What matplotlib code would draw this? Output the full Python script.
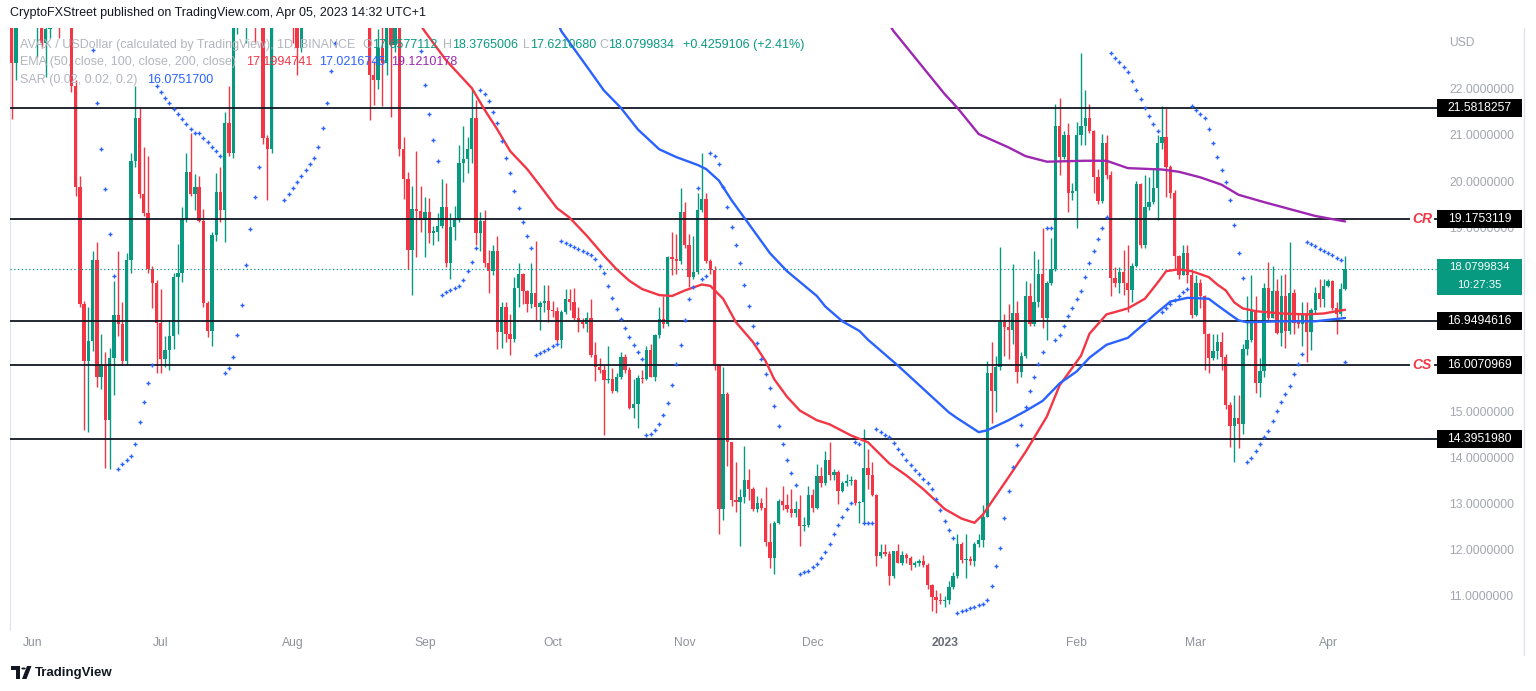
import numpy as np
import pandas as pd
import matplotlib
matplotlib.use("Agg")
import matplotlib.pyplot as plt
import matplotlib.dates as mdates
from matplotlib.patches import Rectangle, Polygon, Circle

plt.rcParams['font.family'] = ['Liberation Sans', 'DejaVu Sans']

# ---------------- data (AVAX/USD daily, 2022-05-27 .. 2023-04-05) ----------------
START = '2022-05-27'
open_ = [
    24.60, 22.57, 23.90, 24.40, 28.20,
    27.30, 24.00, 24.60, 23.00, 23.30, 23.90, 26.00, 25.90, 24.60, 24.40, 22.06, 19.88, 17.32, 16.08, 16.52,
    18.28, 15.75, 15.99, 14.80, 16.16, 17.09, 16.89, 16.08, 18.28, 20.44, 21.36, 19.71, 19.31, 18.08, 17.79,
    16.92, 16.12, 16.32, 16.63, 17.91, 18.00, 19.17, 20.20, 19.72, 19.88, 19.13, 17.34, 16.75, 18.83, 19.77,
    19.37, 21.25, 20.61, 23.70, 24.50, 24.00, 24.30, 23.80, 23.60, 24.10, 20.93, 20.70, 24.40, 24.70, 24.80, 25.60,
    24.40, 23.60, 22.90, 24.00, 24.30, 25.80, 25.30, 27.10, 27.20, 25.70, 27.40, 27.60, 28.00, 29.10, 28.40,
    27.00, 26.80, 25.80, 24.90, 22.30, 22.20, 22.90, 22.57, 23.50, 22.95, 23.60, 20.69, 20.05, 18.51, 19.40, 19.35,
    19.15, 19.32, 18.88, 18.90, 19.03, 19.43, 18.21, 19.00, 19.15, 20.39, 20.48, 20.69, 21.37, 18.86, 19.13,
    18.21, 18.04, 18.47, 16.72, 17.27, 16.68, 16.57, 17.68, 17.97, 17.60, 17.32, 17.57, 17.27, 17.35, 17.40,
    17.19, 17.17, 16.55, 17.15, 17.44, 17.36, 17.03, 16.93, 16.89, 17.02, 16.21, 15.95, 15.90, 15.67, 15.70,
    15.44, 15.74, 16.18, 15.89, 15.07, 15.15, 15.72, 15.70, 16.32, 15.75, 16.65, 16.99, 16.89, 18.34, 18.30, 18.26,
    19.32, 18.60, 17.91, 18.02, 19.37, 19.60, 18.26, 18.06, 15.99, 12.87, 15.38, 14.33, 13.07, 13.02, 13.13,
    13.51, 13.30, 12.87, 13.00, 12.90, 12.15, 11.80, 12.57, 13.04, 12.96, 12.87, 12.78, 12.87, 12.49, 12.52,
    13.17, 12.89, 13.58, 13.43, 13.94, 13.60, 13.67, 13.27, 13.43, 13.47, 13.50, 13.00, 13.02, 13.77, 13.60,
    13.17, 11.85, 11.93, 11.90, 11.42, 11.96, 11.70, 11.88, 11.80, 11.65, 11.70, 11.74, 11.65, 11.21, 10.95, 10.90,
    10.86, 10.90, 11.18, 11.42, 12.10, 11.76, 11.79, 11.74, 12.10, 12.19, 12.70, 15.82, 15.44, 15.95, 16.93,
    16.83, 16.76, 17.12, 15.84, 16.20, 17.49, 16.89, 17.36, 17.97, 17.02, 17.79, 18.08, 21.20, 20.52, 20.99, 19.73,
    19.79, 21.00, 21.20, 21.37, 21.08, 20.09, 19.56, 20.82, 20.14, 17.89, 17.79, 18.02, 17.79, 17.63,
    18.15, 19.94, 18.60, 19.43, 19.54, 19.84, 20.82, 20.96, 20.31, 19.73, 18.37, 17.96, 18.43, 17.96,
    17.09, 17.79, 17.49, 16.68, 16.15, 16.30, 16.50, 16.18, 15.14, 14.67, 14.84, 14.71, 16.35, 16.55, 17.20,
    15.61, 15.86, 17.68, 17.03, 17.60, 16.69, 17.49, 16.74, 17.57, 16.92, 16.90, 17.12, 16.72, 17.19, 17.57, 17.44,
    17.72, 17.83, 17.23, 17.10, 17.6577112,
]
high = [
    25.00, 24.00, 24.60, 28.50, 29.00,
    27.80, 24.90, 24.80, 23.90, 24.20, 26.50, 26.50, 26.00, 25.00, 24.60, 22.20, 20.10, 17.40, 17.27, 18.47,
    18.68, 16.68, 16.29, 16.38, 17.83, 18.47, 17.38, 18.43, 20.60, 22.06, 21.59, 20.73, 20.54, 18.15, 17.85,
    17.66, 16.63, 16.97, 18.00, 18.64, 19.43, 20.60, 21.05, 20.15, 20.10, 19.40, 17.40, 18.90, 20.18, 20.30,
    21.50, 22.06, 24.10, 24.80, 26.00, 24.50, 25.00, 24.20, 24.40, 24.30, 21.00, 24.60, 24.90, 25.00, 26.50, 25.90,
    24.80, 24.00, 24.30, 24.80, 26.00, 26.60, 27.50, 28.00, 28.60, 27.60, 28.60, 28.20, 30.00, 30.00, 29.20,
    27.60, 28.00, 26.30, 25.00, 22.60, 23.30, 23.60, 23.60, 23.80, 23.90, 23.80, 20.95, 20.20, 19.90, 20.65, 19.90,
    19.65, 19.62, 19.03, 19.30, 20.05, 19.95, 19.30, 19.45, 20.78, 21.20, 20.95, 21.97, 21.76, 19.32, 19.36,
    18.51, 18.60, 18.81, 17.36, 17.36, 17.10, 17.91, 18.21, 18.00, 17.62, 18.21, 18.70, 17.40, 17.74, 17.74,
    17.40, 17.27, 17.20, 17.66, 17.66, 17.68, 17.27, 17.02, 17.15, 17.44, 16.50, 16.15, 16.00, 16.42, 15.93,
    15.82, 16.29, 16.25, 15.95, 15.70, 15.78, 15.90, 16.42, 16.46, 16.68, 17.27, 17.49, 18.38, 18.90, 18.85, 19.84,
    19.54, 18.85, 18.80, 19.75, 20.60, 19.74, 18.30, 18.15, 16.03, 15.95, 15.41, 14.33, 13.90, 13.30, 14.24,
    13.73, 13.34, 13.15, 13.10, 13.35, 12.57, 12.60, 13.08, 13.38, 13.20, 13.30, 13.05, 13.18, 12.70, 13.38,
    13.30, 13.85, 13.78, 14.12, 14.32, 13.75, 13.72, 13.47, 13.64, 13.58, 13.52, 13.05, 14.60, 14.18, 13.90,
    13.20, 12.10, 12.10, 11.95, 11.96, 12.10, 11.95, 11.92, 11.85, 11.75, 11.78, 11.88, 11.70, 11.25, 11.10, 11.05,
    10.98, 11.30, 11.50, 12.32, 12.15, 12.32, 11.85, 12.15, 12.32, 12.96, 16.08, 16.50, 16.20, 18.56, 17.10,
    17.32, 18.20, 17.40, 16.29, 17.83, 17.79, 18.47, 18.30, 18.98, 17.83, 18.77, 21.67, 21.80, 21.08, 21.25, 19.95,
    21.29, 22.79, 21.97, 21.67, 21.10, 20.27, 21.03, 20.99, 20.22, 18.13, 18.13, 18.51, 18.60, 18.21,
    20.01, 19.96, 20.14, 20.08, 20.27, 20.99, 21.63, 21.59, 20.35, 19.80, 18.39, 18.60, 18.60, 18.04,
    17.96, 17.87, 17.53, 16.70, 16.68, 16.68, 16.72, 16.25, 15.20, 15.35, 15.35, 16.46, 17.50, 17.96, 17.49,
    16.15, 17.79, 18.23, 18.15, 17.87, 17.96, 17.98, 18.68, 17.66, 17.10, 17.36, 17.36, 17.23, 17.70, 17.87, 17.87,
    17.87, 17.85, 17.36, 17.79, 18.3765006,
]
low = [
    21.35, 22.19, 23.50, 24.20, 26.60,
    23.50, 22.70, 22.90, 22.27, 23.10, 23.80, 23.10, 24.00, 23.80, 21.93, 19.67, 17.27, 14.58, 14.54, 16.30,
    15.52, 15.48, 13.77, 13.75, 15.35, 16.63, 15.99, 16.00, 18.00, 20.30, 19.62, 19.25, 18.00, 17.23, 15.82,
    15.82, 15.95, 15.90, 16.35, 16.68, 17.80, 19.10, 19.67, 19.37, 19.10, 17.27, 16.60, 16.42, 18.70, 19.10,
    18.68, 20.55, 20.50, 23.20, 23.60, 23.00, 23.50, 23.00, 23.40, 20.80, 19.58, 20.60, 23.90, 24.20, 24.50, 24.10,
    23.00, 22.30, 22.80, 23.60, 24.00, 25.00, 25.00, 26.50, 25.30, 25.20, 27.00, 26.80, 27.80, 28.00, 26.00,
    26.20, 25.60, 24.60, 21.33, 21.65, 22.00, 21.63, 22.30, 21.40, 22.80, 20.55, 19.60, 18.08, 17.53, 18.35, 18.90,
    18.34, 18.65, 18.60, 18.70, 18.98, 18.13, 17.87, 18.72, 19.10, 19.97, 20.18, 20.40, 18.60, 18.48, 18.13,
    17.57, 17.95, 16.35, 16.38, 16.50, 16.21, 16.50, 17.27, 17.32, 17.15, 17.23, 16.98, 16.76, 17.15, 16.93,
    17.05, 16.50, 16.38, 17.10, 17.20, 16.98, 16.72, 16.80, 16.72, 16.18, 15.65, 15.82, 14.47, 15.60, 15.40,
    15.41, 15.70, 15.82, 15.05, 14.84, 14.62, 15.60, 15.68, 15.73, 15.65, 16.58, 16.80, 16.85, 17.95, 17.98, 18.20,
    18.55, 17.70, 17.88, 17.98, 19.32, 18.22, 17.98, 15.90, 12.32, 12.62, 13.80, 12.94, 12.80, 12.06, 13.00,
    13.06, 12.82, 12.80, 12.85, 12.06, 11.59, 11.46, 12.55, 12.85, 12.80, 12.70, 12.70, 12.06, 12.40, 12.48,
    12.80, 12.87, 13.35, 13.40, 13.51, 13.51, 12.98, 13.24, 13.38, 13.40, 12.95, 12.57, 12.57, 13.30, 13.15,
    11.63, 11.80, 11.85, 11.21, 11.36, 11.70, 11.65, 11.70, 11.55, 11.60, 11.62, 11.60, 11.14, 10.65, 10.61, 10.80,
    10.75, 10.80, 11.12, 11.38, 11.70, 11.36, 11.66, 11.62, 12.05, 12.05, 12.70, 14.75, 14.97, 15.90, 16.20,
    16.12, 16.45, 15.60, 15.75, 16.15, 16.85, 16.85, 17.27, 16.80, 16.55, 17.75, 18.05, 20.14, 20.48, 19.32, 19.58,
    18.98, 20.78, 20.78, 21.05, 19.75, 19.49, 19.53, 20.05, 17.49, 17.70, 17.57, 17.52, 17.15, 17.36,
    18.13, 18.55, 18.55, 19.36, 19.49, 19.15, 20.69, 19.66, 19.62, 18.08, 17.87, 17.96, 17.79, 17.02,
    17.06, 17.23, 15.90, 15.82, 16.10, 16.12, 15.90, 15.05, 14.21, 13.90, 14.20, 14.50, 16.22, 16.50, 15.39,
    15.30, 15.73, 16.98, 17.02, 16.67, 16.42, 16.38, 16.68, 16.68, 16.80, 16.42, 16.075, 16.33, 17.10, 17.27, 17.27,
    17.70, 17.19, 16.68, 17.06, 17.6210680,
]
close = [
    22.57, 23.90, 24.40, 28.20, 27.30,
    24.00, 24.60, 23.00, 23.30, 23.90, 26.00, 25.90, 24.60, 24.40, 22.06, 19.88, 17.32, 16.08, 16.52, 18.28,
    15.75, 15.99, 14.80, 16.16, 17.09, 16.89, 16.08, 18.28, 20.44, 21.36, 19.71, 19.31, 18.08, 17.79, 16.92,
    16.12, 16.32, 16.63, 17.91, 18.00, 19.17, 20.20, 19.72, 19.88, 19.13, 17.34, 16.75, 18.83, 19.77, 19.37,
    21.25, 20.61, 23.70, 24.50, 24.00, 24.30, 23.80, 23.60, 24.10, 20.93, 20.70, 24.40, 24.70, 24.80, 25.60, 24.40,
    23.60, 22.90, 24.00, 24.30, 25.80, 25.30, 27.10, 27.20, 25.70, 27.40, 27.60, 28.00, 29.10, 28.40, 27.00,
    26.80, 25.80, 24.90, 22.30, 22.20, 22.90, 22.57, 23.50, 22.95, 23.60, 20.69, 20.05, 18.51, 19.40, 19.35, 19.15,
    19.32, 18.88, 18.90, 19.03, 19.43, 18.21, 19.00, 19.15, 20.39, 20.48, 20.69, 21.37, 18.86, 19.13, 18.21,
    18.04, 18.47, 16.72, 17.27, 16.68, 16.57, 17.68, 17.97, 17.60, 17.32, 17.57, 17.27, 17.35, 17.40, 17.19,
    17.17, 16.55, 17.15, 17.44, 17.36, 17.03, 16.93, 16.89, 17.02, 16.21, 15.95, 15.90, 15.67, 15.70, 15.44,
    15.74, 16.18, 15.89, 15.07, 15.15, 15.72, 15.70, 16.32, 15.75, 16.65, 16.99, 16.89, 18.34, 18.30, 18.26, 19.32,
    18.60, 17.91, 18.02, 19.37, 19.60, 18.26, 18.06, 15.99, 12.87, 15.38, 14.33, 13.07, 13.02, 13.13, 13.51,
    13.30, 12.87, 13.00, 12.90, 12.15, 11.80, 12.57, 13.04, 12.96, 12.87, 12.78, 12.87, 12.49, 12.52, 13.17,
    12.89, 13.58, 13.43, 13.94, 13.60, 13.67, 13.27, 13.43, 13.47, 13.50, 13.00, 13.02, 13.77, 13.60, 13.17,
    11.85, 11.93, 11.90, 11.42, 11.96, 11.70, 11.88, 11.80, 11.65, 11.70, 11.74, 11.65, 11.21, 10.95, 10.90, 10.86,
    10.90, 11.18, 11.42, 12.10, 11.76, 11.79, 11.74, 12.10, 12.19, 12.70, 15.82, 15.44, 15.95, 16.93, 16.83,
    16.76, 17.12, 15.84, 16.20, 17.49, 16.89, 17.36, 17.97, 17.02, 17.79, 18.08, 21.20, 20.52, 20.99, 19.73, 19.79,
    21.00, 21.20, 21.37, 21.08, 20.09, 19.56, 20.82, 20.14, 17.89, 17.79, 18.02, 17.79, 17.63, 18.15,
    19.94, 18.60, 19.43, 19.54, 19.84, 20.82, 20.96, 20.31, 19.73, 18.37, 17.96, 18.43, 17.96, 17.09,
    17.79, 17.49, 16.68, 16.15, 16.30, 16.50, 16.18, 15.14, 14.67, 14.84, 14.71, 16.35, 16.55, 17.20, 15.61,
    15.86, 17.68, 17.03, 17.60, 16.69, 17.49, 16.74, 17.57, 16.92, 16.90, 17.12, 16.72, 17.19, 17.57, 17.44, 17.72,
    17.83, 17.23, 17.10, 17.6540728, 18.0799834,
]

# EMA lines (date, value)
ema50_dates = ['2022-08-28', '2022-09-01', '2022-09-06', '2022-09-12', '2022-09-15', '2022-09-18', '2022-09-21',
               '2022-09-25', '2022-09-28', '2022-10-02', '2022-10-05', '2022-10-09', '2022-10-13', '2022-10-16',
               '2022-10-19', '2022-10-22', '2022-10-26', '2022-10-29', '2022-11-01', '2022-11-05', '2022-11-07',
               '2022-11-10', '2022-11-13', '2022-11-17', '2022-11-20', '2022-11-22', '2022-11-25', '2022-11-28',
               '2022-12-02', '2022-12-05', '2022-12-10', '2022-12-14', '2022-12-19', '2022-12-23', '2022-12-27',
               '2023-01-01', '2023-01-05', '2023-01-08', '2023-01-10', '2023-01-16', '2023-01-20', '2023-01-25',
               '2023-01-28', '2023-02-02', '2023-02-04', '2023-02-08', '2023-02-13', '2023-02-17', '2023-02-20',
               '2023-02-22', '2023-02-25', '2023-02-28', '2023-03-04', '2023-03-06', '2023-03-08', '2023-03-10',
               '2023-03-12', '2023-03-15', '2023-03-21', '2023-03-27', '2023-03-31', '2023-04-03', '2023-04-05']
ema50_vals = [23.80, 23.25, 22.62, 22.02, 21.55, 21.12, 20.65,
              20.26, 19.90, 19.41, 19.20, 18.81, 18.38, 18.08,
              17.83, 17.65, 17.52, 17.50, 17.62, 17.75, 17.72,
              17.44, 16.93, 16.50, 16.08, 15.69, 15.31, 15.01,
              14.80, 14.71, 14.47, 14.32, 13.86, 13.60, 13.30,
              12.87, 12.66, 12.57, 12.75, 13.56, 14.11, 14.88,
              15.56, 16.20, 16.68, 17.10, 17.23, 17.44, 17.79,
              18.04, 18.08, 18.04, 17.91, 17.75, 17.62, 17.36,
              17.23, 17.17, 17.12, 17.10, 17.12, 17.17, 17.1994741]
ema100_dates = ['2022-10-01', '2022-10-03', '2022-10-09', '2022-10-13', '2022-10-17', '2022-10-21', '2022-10-26',
                '2022-10-30', '2022-11-04', '2022-11-06', '2022-11-09', '2022-11-12', '2022-11-16', '2022-11-21',
                '2022-11-25', '2022-12-02', '2022-12-04', '2022-12-08', '2022-12-12', '2022-12-14', '2022-12-21',
                '2022-12-27', '2023-01-02', '2023-01-04', '2023-01-09', '2023-01-11', '2023-01-16', '2023-01-20',
                '2023-01-24', '2023-01-28', '2023-02-01', '2023-02-04', '2023-02-08', '2023-02-13', '2023-02-20',
                '2023-02-23', '2023-02-27', '2023-03-04', '2023-03-06', '2023-03-09', '2023-03-11', '2023-03-13',
                '2023-03-21', '2023-03-29', '2023-04-05']
ema100_vals = [23.70, 23.26, 22.49, 21.97, 21.59, 21.12, 20.69,
               20.52, 20.35, 20.26, 20.01, 19.58, 19.07, 18.43,
               18.04, 17.50, 17.27, 16.95, 16.74, 16.55, 15.99,
               15.48, 14.97, 14.84, 14.54, 14.58, 14.80, 15.00,
               15.22, 15.60, 15.86, 16.16, 16.44, 16.59, 17.15,
               17.38, 17.46, 17.44, 17.30, 17.10, 16.97, 16.93,
               16.95, 16.95, 17.0216745]
ema200_dates = ['2022-12-17', '2022-12-20', '2023-01-01', '2023-01-04', '2023-01-09', '2023-01-16', '2023-01-20',
                '2023-01-25', '2023-02-03', '2023-02-08', '2023-02-13', '2023-02-21', '2023-02-25', '2023-03-02',
                '2023-03-07', '2023-03-11', '2023-03-17', '2023-03-23', '2023-03-29', '2023-04-05']
ema200_vals = [23.70, 23.26, 21.89, 21.59, 21.02, 20.73, 20.54,
               20.42, 20.44, 20.44, 20.28, 20.25, 20.20, 20.08,
               19.92, 19.70, 19.54, 19.39, 19.24, 19.1210178]

levels = [21.5818257, 19.1753119, 16.9494616, 16.0070969, 14.3951980]
level_tags = ['', 'CR', '', 'CS', '']
last_price = 18.0799834
axis_ticks = list(range(11, 23))
hidden_ticks = [16, 17, 18]   # covered by the price boxes in the chart
month_ticks = ['2022-06-01', '2022-07-01', '2022-08-01', '2022-09-01', '2022-10-01', '2022-11-01',
               '2022-12-01', '2023-01-01', '2023-02-01', '2023-03-01', '2023-04-01']
month_labels = ['Jun', 'Jul', 'Aug', 'Sep', 'Oct', 'Nov', 'Dec', '2023', 'Feb', 'Mar', 'Apr']

assert len(open_) == len(high) == len(low) == len(close) == 314

# ---------------- styling ----------------
GREEN = '#089981'
RED = '#F23645'
BLUE = '#2962FF'
PURPLE = '#9C27B0'
GRAY = '#b2b5be'
DARK = '#131722'
FS = 9.0

W, H = 1536, 691
fig = plt.figure(figsize=(W / 100, H / 100), dpi=100)
fig.patch.set_facecolor('white')


def fx(px):
    return px / W


def fy(py):
    return 1 - py / H


AX_L, AX_R, AX_T, AX_B = 10, 1437, 28, 630
ax = fig.add_axes([fx(AX_L), fy(AX_B), (AX_R - AX_L) / W, (AX_B - AX_T) / H])
ax.set_facecolor('white')

PX_DAY = 4.26
X_JUN1 = 33.0
Y15, PX_UNIT = 411.0, 46.0
jun1 = mdates.date2num(pd.Timestamp('2022-06-01'))
ax.set_xlim(jun1 + (AX_L - X_JUN1) / PX_DAY, jun1 + (AX_R - X_JUN1) / PX_DAY)
ax.set_ylim(15 + (Y15 - AX_B) / PX_UNIT, 15 + (Y15 - AX_T) / PX_UNIT)


def ypx(v):
    return Y15 - (v - 15) * PX_UNIT


# candles
dates = pd.date_range(START, periods=len(close), freq='D')
xs = mdates.date2num(dates)
O = np.array(open_); Hh = np.array(high); L = np.array(low); C = np.array(close)
up = C >= O
cols = np.where(up, GREEN, RED)
ax.vlines(xs, np.minimum(L, np.minimum(O, C)), np.maximum(Hh, np.maximum(O, C)),
          colors=cols, linewidth=1.0, zorder=2)
ax.bar(xs, np.maximum(np.abs(C - O), 0.025), bottom=np.minimum(O, C), width=0.78,
       color=cols, linewidth=0, zorder=3)


# parabolic SAR (0.02, 0.02, 0.2) computed from the candles
def parabolic_sar(hi, lo, cl, start=0.02, inc=0.02, mx=0.2):
    n = len(hi)
    out = np.full(n, np.nan)
    result = maxmin = acc = 0.0
    below = False
    for i in range(1, n):
        first = False
        if i == 1:
            if cl[1] > cl[0]:
                below, maxmin, result = True, hi[1], lo[0]
            else:
                below, maxmin, result = False, lo[1], hi[0]
            first = True
            acc = start
        result = result + acc * (maxmin - result)
        if below:
            if result > lo[i]:
                first = True
                below = False
                result = max(hi[i], maxmin)
                maxmin = lo[i]
                acc = start
        else:
            if result < hi[i]:
                first = True
                below = True
                result = min(lo[i], maxmin)
                maxmin = hi[i]
                acc = start
        if not first:
            if below:
                if hi[i] > maxmin:
                    maxmin = hi[i]
                    acc = min(acc + inc, mx)
            else:
                if lo[i] < maxmin:
                    maxmin = lo[i]
                    acc = min(acc + inc, mx)
        if below:
            result = min(result, lo[i - 1])
            if i > 1:
                result = min(result, lo[i - 2])
        else:
            result = max(result, hi[i - 1])
            if i > 1:
                result = max(result, hi[i - 2])
        out[i] = result
    return out


sar = parabolic_sar(Hh, L, C)
sar[:10] = np.nan  # indicator warm-up

# horizontal levels
for v in levels:
    ax.axhline(v, color=DARK, lw=1.3, zorder=4)
ax.axhline(last_price, color=GREEN, lw=0.9, ls=(0, (1, 2)), zorder=4)

# EMAs
for dts, vals, col in [(ema50_dates, ema50_vals, RED), (ema100_dates, ema100_vals, BLUE),
                       (ema200_dates, ema200_vals, PURPLE)]:
    ax.plot(mdates.date2num(pd.to_datetime(dts)), vals, color=col, lw=1.7, zorder=5,
            solid_capstyle='round', solid_joinstyle='round')

ax.plot(xs, sar, ls='none', marker='+', ms=3.2, mew=1.0, color=BLUE, zorder=6)

# axes cosmetics
for s in ['top', 'right', 'bottom']:
    ax.spines[s].set_visible(False)
ax.spines['left'].set_color('#e0e3eb')
ax.yaxis.tick_right()
ax.set_yticks(axis_ticks)
ax.set_yticklabels(['' if v in hidden_ticks else f'{v:.7f}' for v in axis_ticks])
ax.tick_params(axis='y', length=0, pad=8.6, labelsize=8.7, labelcolor='#a3a6af')
ax.set_xticks(mdates.date2num(pd.to_datetime(month_ticks)))
ax.set_xticklabels(month_labels)
ax.tick_params(axis='x', length=0, pad=5.0, labelsize=8.7, labelcolor='#8f929b')
for lbl in ax.get_xticklabels():
    if lbl.get_text() == '2023':
        lbl.set_fontweight('bold')
        lbl.set_color('#6a6d78')

# price-scale boxes
for v, tag in zip(levels, level_tags):
    y = ypx(v)
    fig.patches.append(Rectangle((fx(1437), fy(y + 9)), 85 / W, 18 / H, transform=fig.transFigure,
                                 facecolor='black', edgecolor='none', zorder=5))
    fig.text(fx(1479.5), fy(y), f'{v:.7f}', color='white', fontsize=8.7, ha='center', va='center', zorder=6)
    if tag:
        fig.text(fx(1422), fy(y), tag, color=RED, fontsize=10, fontweight='bold', fontstyle='italic',
                 ha='center', va='center', zorder=6,
                 bbox=dict(facecolor='white', edgecolor='none', pad=1.6))
fig.patches.append(Rectangle((fx(1437), fy(295)), 85 / W, 36 / H, transform=fig.transFigure,
                             facecolor=GREEN, edgecolor='none', zorder=5))
fig.text(fx(1479.5), fy(267.5), f'{last_price:.7f}', color='white', fontsize=8.2, ha='center',
         va='center', zorder=6)
fig.text(fx(1479.5), fy(285.5), '10:27:35', color='white', fontsize=8.2, ha='center', va='center', zorder=6)
fig.text(fx(1449), fy(43), 'USD', color='#a3a6af', fontsize=8.7, ha='left', va='center')
fig.lines.append(plt.Line2D([fx(1524), fx(1524)], [fy(28), fy(655)], transform=fig.transFigure,
                            color='#e0e3eb', lw=1))

# header / legend
fig.text(fx(10), fy(13), 'CryptoFXStreet published on TradingView.com, Apr 05, 2023 14:32 UTC+1',
         color=DARK, fontsize=FS, ha='left', va='center')

renderer = fig.canvas.get_renderer()


def seq(x, y, parts, size=FS):
    for s, col in parts:
        t = fig.text(fx(x), fy(y), s, color=col, fontsize=size, ha='left', va='center', zorder=7)
        x += t.get_window_extent(renderer=renderer).width


fig.text(fx(20), fy(45), 'AVAX / USDollar (calculated by TradingView), 1D, BINANCE', color=GRAY,
         fontsize=FS, ha='left', va='center', zorder=7)
seq(362, 45, [('O', GRAY), ('17.6577112', GREEN)])
seq(443, 45, [('H', GRAY), ('18.3765006', GREEN)])
seq(523, 45, [('L', GRAY), ('17.6210680', GREEN)])
seq(599, 45, [('C', GRAY), ('18.0799834', GREEN)])
seq(683, 45, [('+0.4259106 (+2.41%)', GREEN)])
fig.text(fx(20), fy(62), 'EMA (50, close, 100, close, 200, close)', color=GRAY, fontsize=FS,
         ha='left', va='center', zorder=7)
seq(246, 62, [('17.1994741', RED)])
seq(319, 62, [('17.0216745', BLUE)])
seq(391, 62, [('19.1210178', PURPLE)])
fig.text(fx(20), fy(80), 'SAR (0.02, 0.02, 0.2)', color=GRAY, fontsize=FS, ha='left', va='center', zorder=7)
seq(147, 80, [('16.0751700', BLUE)])

# footer logo
tf = fig.transFigure
fig.patches.append(Polygon([(fx(11), fy(666)), (fx(20), fy(666)), (fx(20), fy(679)), (fx(16), fy(679)),
                            (fx(16), fy(670)), (fx(11), fy(670))], closed=True, transform=tf,
                           facecolor=DARK, edgecolor='none'))
fig.patches.append(Circle((fx(23.5), fy(668.5)), 2.2 / W, transform=tf, facecolor=DARK, edgecolor='none'))
fig.patches.append(Polygon([(fx(27), fy(666)), (fx(31.5), fy(666)), (fx(26.5), fy(679)), (fx(22), fy(679))],
                           closed=True, transform=tf, facecolor=DARK, edgecolor='none'))
fig.text(fx(35), fy(673), 'TradingView', color=DARK, fontsize=9.5, fontweight='bold', ha='left', va='center')

fig.savefig('out.png', dpi=100, facecolor='white')
